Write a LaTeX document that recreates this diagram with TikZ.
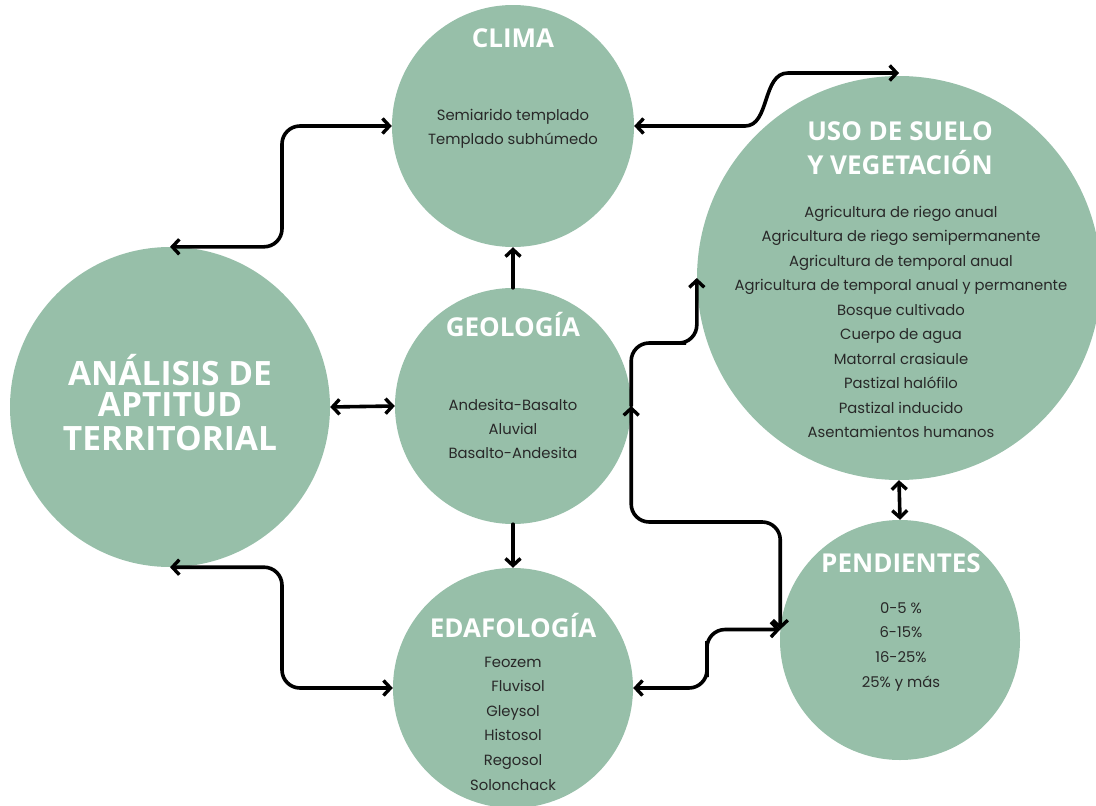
\documentclass[tikz,border=0pt]{standalone}
\usepackage{fontspec}
\setmainfont{Poppins}
\newfontfamily\headfont{Open Sans}
\usetikzlibrary{arrows.meta}
\definecolor{sage}{RGB}{151,191,169}
\definecolor{bodytext}{RGB}{40,40,40}
\tikzset{
  blob/.style={circle, fill=sage, draw=none, inner sep=0pt},
  head/.style={font=\headfont\bfseries\fontsize{26}{30}\selectfont, text=white, anchor=base, inner sep=0pt},
  bighead/.style={font=\headfont\bfseries\fontsize{33.5}{38}\selectfont, text=white, anchor=base, inner sep=0pt},
  body/.style={font=\fontsize{14.8}{17}\selectfont, text=bodytext, anchor=base, inner sep=0pt},
  conn/.style={line width=3.6pt, rounded corners=18pt, line cap=round,
    arrows={Straight Barb[length=7pt,width=15pt,line width=3.4pt]-Straight Barb[length=7pt,width=15pt,line width=3.4pt]}},
  conn1/.style={line width=3.6pt, rounded corners=18pt, line cap=round,
    arrows={-Straight Barb[length=7pt,width=15pt,line width=3.4pt]}}
}
\begin{document}
\begin{tikzpicture}[x=1pt,y=-1pt]
\useasboundingbox (0,0) rectangle (1096,806);
% circles
\node[blob, minimum size=320pt] (ana) at (170,407) {};
\node[blob, minimum size=242pt] (clima) at (513,126) {};
\node[blob, minimum size=236pt] (geo) at (513,406) {};
\node[blob, minimum size=240pt] (eda) at (513,688) {};
\node[blob, minimum size=404pt] (uso) at (899,278) {};
\node[blob, minimum size=240pt] (pend) at (900,640) {};
% headings
\node[bighead] (ana1) at (170,385) {ANÁLISIS DE};
\node[bighead] (ana2) at (170,416) {APTITUD};
\node[bighead] (ana3) at (170,450) {TERRITORIAL};
\node[head] (climah) at (513,47) {CLIMA};
\node[head] (geoh) at (513,336) {GEOLOGÍA};
\node[head] (edah) at (513,637) {EDAFOLOGÍA};
\node[head] (pendh) at (901,572) {PENDIENTES};
\node[head] (uso1) at (900,140) {USO DE SUELO};
\node[head] (uso2) at (900,174) {Y VEGETACIÓN};
% body text
\node[body] (cl1) at (513,120) {Semiarido templado};
\node[body] (cl2) at (513,144) {Templado subhúmedo};
\node[body] (ge1) at (513,410) {Andesita-Basalto};
\node[body] (ge2) at (513,434) {Aluvial};
\node[body] (ge3) at (513,458) {Basalto-Andesita};
\foreach \t [count=\i] in {Feozem,{\hspace{10pt}Fluvisol},Gleysol,Histosol,Regosol,Solonchack}
  \node[body] (ed\i) at (513,{667+24.6*(\i-1)}) {\t};
\foreach \t [count=\i] in {0-5 \%,6-15\%,16-25\%,25\% y más}
  \node[body] (pe\i) at (901,{613+24.7*(\i-1)}) {\t};
\foreach \t [count=\i] in {Agricultura de riego anual,Agricultura de riego semipermanente,Agricultura de temporal anual,Agricultura de temporal anual y permanente,Bosque cultivado,Cuerpo de agua,Matorral crasiaule,Pastizal halófilo,Pastizal inducido,Asentamientos humanos}
  \node[body] (us\i) at (901,{217+24.5*(\i-1)}) {\t};
% helper coordinates
\coordinate (c1) at (282,186);
\coordinate (c2) at (282,628);
\coordinate (usotop) at (899,73);
\coordinate (g1) at (668,343);
\coordinate (g2) at (706,522);
\coordinate (e1) at (707,659);
% connectors
\draw[conn] (ana.north) -| (c1) |- (clima.west);
\draw[conn] (ana.south) -| (c2) |- (eda.west);
\draw[conn] (ana.east) -- (geo.west);
\draw[conn1] (geo.north) -- (clima.south);
\draw[conn1] (geo.south) -- (eda.north);
\draw[conn, sharp corners] (clima.east) -- (745,126) .. controls (770,126) and (762,73) .. (788,73) -- (usotop);
\draw[conn1] (geo.east) |- (g1) -| (uso.west);
\draw[conn] (geo.east) |- (g2) -| (pend.175);
\draw[conn] (eda.east) -| (e1) |- (pend.175);
\draw[conn] (uso.south) -- (pend.north);
\end{tikzpicture}
\end{document}
